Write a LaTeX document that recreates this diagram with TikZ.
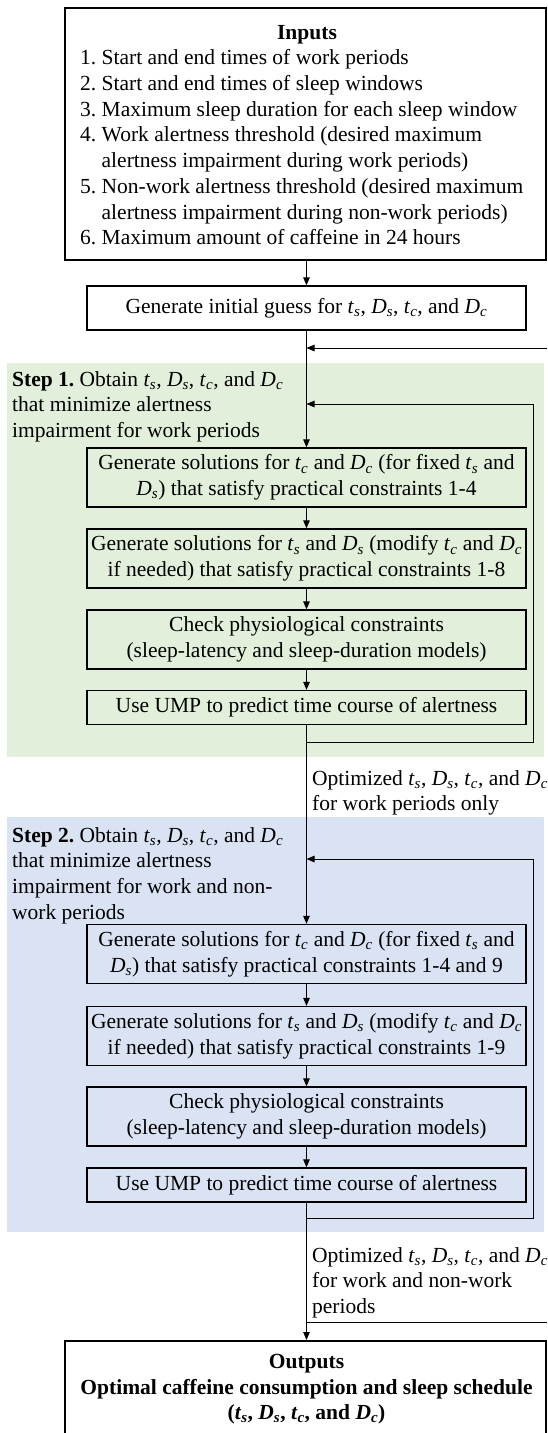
\documentclass[tikz,border=0pt]{standalone}
\usepackage{fontspec}
\setmainfont{Liberation Serif}
\usetikzlibrary{arrows.meta}
\definecolor{stepgreen}{RGB}{226,239,218}
\definecolor{stepblue}{RGB}{218,227,243}
\newcommand{\vts}{\textit{t}\textsubscript{\textit{s}}}
\newcommand{\vDs}{\textit{D}\textsubscript{\textit{s}}}
\newcommand{\vtc}{\textit{t}\textsubscript{\textit{c}}}
\newcommand{\vDc}{\textit{D}\textsubscript{\textit{c}}}
\begin{document}
\frenchspacing
\begin{tikzpicture}[x=1pt,y=-1pt,
  font=\fontsize{21.5}{25.7}\selectfont,
  box/.style={draw, line width=1.3pt, minimum width=439pt, minimum height=59pt, inner sep=0pt, align=center},
  flatbox/.style={box, minimum height=34pt},
  bigbox/.style={draw, line width=2pt, inner sep=0pt, minimum width=481pt},
  conn/.style={line width=1pt},
  arr/.style={conn, -{Triangle[length=8pt,width=6.5pt]}},
  txt/.style={inner sep=0pt, align=left, anchor=north west}
]
\useasboundingbox (0,0) rectangle (547,1433);
% step backgrounds
\fill[stepgreen] (7,363) rectangle (544,757);
\fill[stepblue] (7,817) rectangle (544,1232);

% inputs
\node[bigbox, minimum height=252pt] (inputs) at (305.5,134) {};
\node[inner sep=0pt, anchor=base, font=\fontsize{21.5}{25.7}\selectfont\bfseries] (inT) at (307,39) {Inputs};
\node[txt] (inL) at (80,49.5) {1. Start and end times of work periods\\
2. Start and end times of sleep windows\\
3. Maximum sleep duration for each sleep window\\
4. Work alertness threshold (desired maximum\\
\phantom{4.~}alertness impairment during work periods)\\
5. Non-work alertness threshold (desired maximum\\
\phantom{5.~}alertness impairment during non-work periods)\\
6. Maximum amount of caffeine in 24 hours};

\node[box, minimum height=44pt] (gen) at (306.5,308) {Generate initial guess for \vts, \vDs, \vtc, and \vDc};

% step 1
\node[txt] (s1T) at (12,371) {\textbf{Step 1.} Obtain \vts, \vDs, \vtc, and \vDc\\
that minimize alertness\\
impairment for work periods};
\node[box] (a1) at (306.5,477.5) {Generate solutions for \vtc{} and \vDc{} (for fixed \vts{} and\\
\vDs) that satisfy practical constraints 1-4};
\node[box] (a2) at (306.5,558.5) {Generate solutions for \vts{} and \vDs{} (modify \vtc{} and \vDc\\
if needed) that satisfy practical constraints 1-8};
\node[box] (a3) at (306.5,639.5) {Check physiological constraints\\
(sleep-latency and sleep-duration models)};
\node[flatbox] (a4) at (306.5,707.5) {Use UMP to predict time course of alertness};

\node[txt] (opt1) at (312,770) {Optimized \vts, \vDs, \vtc, and \vDc\\
for work periods only};

% step 2
\node[txt] (s2T) at (12,827) {\textbf{Step 2.} Obtain \vts, \vDs, \vtc, and \vDc\\
that minimize alertness\\
impairment for work and non-\\
work periods};
\node[box] (b1) at (306.5,954) {Generate solutions for \vtc{} and \vDc{} (for fixed \vts{} and\\
\vDs) that satisfy practical constraints 1-4 and 9};
\node[box] (b2) at (306.5,1036) {Generate solutions for \vts{} and \vDs{} (modify \vtc{} and \vDc\\
if needed) that satisfy practical constraints 1-9};
\node[box] (b3) at (306.5,1116.5) {Check physiological constraints\\
(sleep-latency and sleep-duration models)};
\node[flatbox] (b4) at (306.5,1185) {Use UMP to predict time course of alertness};

\node[txt] (opt2) at (312,1247) {Optimized \vts, \vDs, \vtc, and \vDc\\
for work and non-work\\
periods};

% outputs
\node[bigbox, minimum height=120pt] (outputs) at (305.5,1401) {};
\node[inner sep=0pt, anchor=north, align=center, font=\fontsize{21.5}{25.7}\selectfont\bfseries] (outT) at (306.5,1354) {Outputs\\
Optimal caffeine consumption and sleep schedule\\
(\vts, \vDs, \vtc, and \vDc)};

% connectors
\coordinate (fbR) at (547,348);
\coordinate (l1R) at (533,742);
\coordinate (l1T) at (533,404);
\coordinate (l2R) at (533,1218);
\coordinate (l2T) at (533,859);
\coordinate (outR) at (547,1322);

\draw[arr] (inputs.south -| gen.north) -- (gen.north);
\draw[arr] (gen.south) -- (a1.north);
\draw[arr] (fbR) -- (fbR -| gen.south);
\draw[arr] (a1.south) -- (a2.north);
\draw[arr] (a2.south) -- (a3.north);
\draw[arr] (a3.south) -- (a4.north);
\draw[conn] (a4.south |- l1R) -- (l1R) -- (l1T);
\draw[arr] (l1T) -- (l1T -| a1.north);
\draw[arr] (a4.south) -- (b1.north);
\draw[arr] (b1.south) -- (b2.north);
\draw[arr] (b2.south) -- (b3.north);
\draw[arr] (b3.south) -- (b4.north);
\draw[conn] (b4.south |- l2R) -- (l2R) -- (l2T);
\draw[arr] (l2T) -- (l2T -| b1.north);
\draw[arr] (b4.south) -- (outputs.north -| b4.south);
\draw[conn] (outR -| b4.south) -- (outR);
\end{tikzpicture}
\end{document}
